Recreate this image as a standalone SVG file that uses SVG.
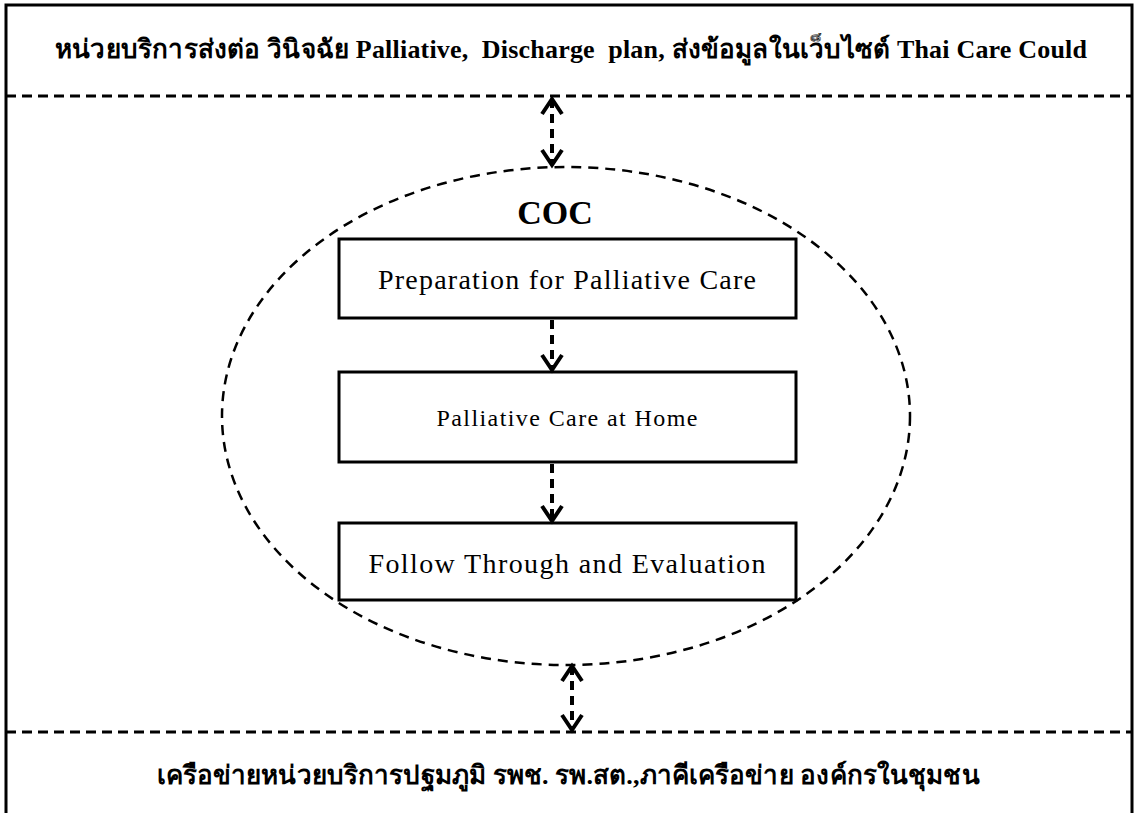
<svg xmlns="http://www.w3.org/2000/svg" width="1134" height="813" viewBox="0 0 1134 813">
<style>
.th{font-family:"Liberation Serif",serif;font-weight:bold;font-size:26px;fill:#000;text-anchor:middle;white-space:pre}
.bx{fill:#fff;stroke:#000;stroke-width:3}
.bt{font-family:"Liberation Serif",serif;fill:#000;text-anchor:middle}
.dl{stroke:#000;stroke-width:3;stroke-dasharray:10 6;fill:none}
.ar{stroke:#000;stroke-width:4;stroke-dasharray:9 6;fill:none}
</style>
<defs>
<marker id="ah" markerWidth="24" markerHeight="26" refX="17" refY="12" orient="auto-start-reverse" markerUnits="userSpaceOnUse">
<path d="M2,2 L17,12 L2,22" fill="none" stroke="#000" stroke-width="4"/>
</marker>
</defs>
<rect width="1134" height="813" fill="#fff"/>
<g id="frame">
<path d="M6,813 V5 H1132 V813" fill="none" stroke="#000" stroke-width="3"/>
<line x1="6" y1="96" x2="1132" y2="96" class="dl"/>
<line x1="6" y1="732" x2="1132" y2="732" class="dl"/>
</g>
<g id="top-label"><text x="571" y="58" class="th" textLength="1032" lengthAdjust="spacing">หน่วยบริการส่งต่อ วินิจฉัย Palliative,  Discharge  plan, ส่งข้อมูลในเว็บไซต์ Thai Care Could</text></g>
<g id="bottom-label"><text x="568" y="784" class="th" textLength="823" lengthAdjust="spacing">เครือข่ายหน่วยบริการปฐมภูมิ รพช. รพ.สต.,ภาคีเครือข่าย องค์กรในชุมชน</text></g>
<g id="coc">
<ellipse cx="566" cy="416" rx="344" ry="249" fill="none" stroke="#000" stroke-width="2.5" stroke-dasharray="10 7"/>
<text x="555" y="224" class="bt" font-size="34" font-weight="bold">COC</text>
</g>
<g id="prep"><rect x="339" y="239" width="457" height="79" class="bx"/><text x="567" y="289" class="bt" font-size="28" textLength="378" lengthAdjust="spacing">Preparation for Palliative Care</text></g>
<g id="home"><rect x="339" y="372" width="457" height="90" class="bx"/><text x="567" y="426" class="bt" font-size="24" textLength="261" lengthAdjust="spacing">Palliative Care at Home</text></g>
<g id="follow"><rect x="339" y="523" width="457" height="77" class="bx"/><text x="567" y="573" class="bt" font-size="28" textLength="397" lengthAdjust="spacing">Follow Through and Evaluation</text></g>
<g id="connectors">
<line x1="552" y1="99" x2="552" y2="165" class="ar" marker-start="url(#ah)" marker-end="url(#ah)"/>
<line x1="552" y1="320" x2="552" y2="370" class="ar" marker-end="url(#ah)"/>
<line x1="552" y1="464" x2="552" y2="521" class="ar" marker-end="url(#ah)"/>
<line x1="572" y1="666" x2="572" y2="730" class="ar" marker-start="url(#ah)" marker-end="url(#ah)"/>
</g>
</svg>
